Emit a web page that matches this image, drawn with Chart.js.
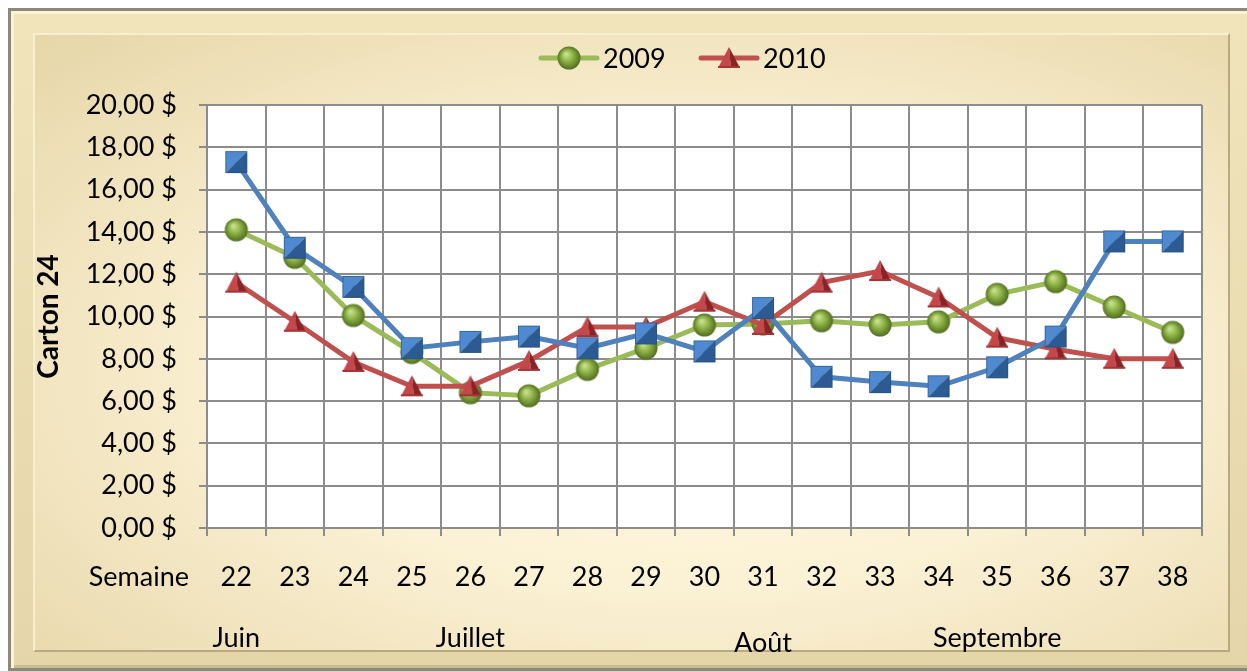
<!DOCTYPE html>
<html>
<head>
<meta charset="utf-8">
<script src="https://cdn.jsdelivr.net/npm/chart.js@4/dist/chart.umd.min.js"></script>
<style>
  html, body { margin: 0; padding: 0; background: #fff; width: 1247px; height: 671px; overflow: hidden; }
  .frame {
    position: absolute; left: 8px; top: 8px; width: 1262px; height: 657px;
    border: 3px solid #8d887a;
    background: linear-gradient(180deg, #f1e4bb 0%, #e5d6aa 100%);
    box-shadow: inset 3px 3px 0 #fbf3d6, inset -3px -3px 0 #c9bb92;
  }
  .panel {
    position: absolute; left: 22px; top: 22px; width: 1193px; height: 615px;
    border: 2px solid; border-color: #f8efd0 #b8aa80 #b8aa80 #f8efd0;
    background: radial-gradient(ellipse at 55% 55%, #fffae6 0%, #fbf1d4 45%, #e6d6a8 100%);
  }
  #wrap { position: absolute; left: 0; top: 0; width: 1247px; height: 671px; }
</style>
</head>
<body>
<div class="frame"><div class="panel"></div></div>
<div id="wrap"><canvas id="Chart" width="1247" height="671"></canvas></div>
<script>
// semaines et valeurs
var semaines = ['22','23','24','25','26','27','28','29','30','31','32','33','34','35','36','37','38'];
var prix2009 = [14.1, 12.8, 10.05, 8.3, 6.4, 6.25, 7.5, 8.5, 9.6, 9.65, 9.8, 9.6, 9.75, 11.05, 11.65, 10.45, 9.25];
var prix2010 = [11.6, 9.75, 7.85, 6.7, 6.7, 7.9, 9.5, 9.5, 10.7, 9.6, 11.6, 12.15, 10.9, 9.0, 8.45, 8.0, 8.0];
var prix2011 = [17.3, 13.25, 11.4, 8.5, 8.8, 9.05, 8.5, 9.2, 8.35, 10.4, 7.15, 6.9, 6.7, 7.6, 9.05, 13.55, 13.55];
var mois = ['Juin', 'Juillet', 'Août', 'Septembre'];
var moisSemaine = [22, 26, 31, 35];
var yTicks = { min: 0, max: 20, step: 2 };

var FONT = 'Lato, "Open Sans", sans-serif';

function marker(kind) {
    var c = document.createElement('canvas');
    c.width = 26; c.height = 26;
    var g = c.getContext('2d');
    if (kind == 'circle') {
        var rg = g.createRadialGradient(10, 9, 1, 13, 13, 12);
        rg.addColorStop(0, '#c6e08c');
        rg.addColorStop(0.45, '#8db146');
        rg.addColorStop(1, '#4d6a1c');
        g.fillStyle = rg;
        g.beginPath(); g.arc(13, 13, 11.5, 0, Math.PI * 2); g.fill();
    } else if (kind == 'square') {
        g.fillStyle = '#4f8ad0';
        g.beginPath(); g.moveTo(2, 2); g.lineTo(24, 2); g.lineTo(2, 24); g.closePath(); g.fill();
        g.fillStyle = '#2c5a92';
        g.beginPath(); g.moveTo(24, 2); g.lineTo(24, 24); g.lineTo(2, 24); g.closePath(); g.fill();
        g.strokeStyle = 'rgba(40,80,130,0.6)'; g.lineWidth = 1;
        g.strokeRect(2.5, 2.5, 21, 21);
    } else {
        g.fillStyle = '#c4474a';
        g.beginPath(); g.moveTo(13, 2); g.lineTo(2, 23); g.lineTo(15, 23); g.closePath(); g.fill();
        g.fillStyle = '#8a2326';
        g.beginPath(); g.moveTo(13, 2); g.lineTo(15, 23); g.lineTo(24, 23); g.closePath(); g.fill();
        g.fillStyle = '#a83336';
        g.fillRect(2, 21, 22, 2);
    }
    return c;
}

var mkGreen = marker('circle');
var mkRed = marker('triangle');
var mkBlue = marker('square');

var Data = {
    labels: semaines,
    datasets: [{
        label: '2009',
        data: prix2009,
        borderColor: '#9bbb59',
        backgroundColor: '#9bbb59',
        borderWidth: 5,
        pointStyle: mkGreen,
        order: 2,
        legend: true
    }, {
        label: '2010',
        data: prix2010,
        borderColor: '#c0504d',
        backgroundColor: '#c0504d',
        borderWidth: 5,
        pointStyle: mkRed,
        order: 1,
        legend: true
    }, {
        label: '2011',
        data: prix2011,
        borderColor: '#4f81bd',
        backgroundColor: '#4f81bd',
        borderWidth: 5,
        pointStyle: mkBlue,
        order: 0,
        legend: false
    }]
};

// fond blanc de la zone de tracé
var plotBg = {
    id: 'plotBg',
    beforeDraw: function(chart) {
        var a = chart.chartArea, ctx = chart.ctx;
        ctx.save();
        ctx.fillStyle = '#ffffff';
        ctx.fillRect(a.left, a.top, a.right - a.left, a.bottom - a.top);
        ctx.restore();
    }
};

// légende avec trait + marqueur, et libellés Semaine / mois
var extras = {
    id: 'extras',
    afterDraw: function(chart) {
        var ctx = chart.ctx, xs = chart.scales.x, a = chart.chartArea;
        ctx.save();
        ctx.font = '27px ' + FONT;
        ctx.fillStyle = '#000';
        ctx.textBaseline = 'middle';

        var x = 541, y = 58;
        chart.data.datasets.forEach(function(ds) {
            if (!ds.legend) return;
            ctx.strokeStyle = ds.borderColor;
            ctx.lineWidth = 5;
            ctx.lineCap = 'round';
            ctx.beginPath(); ctx.moveTo(x, y); ctx.lineTo(x + 56, y); ctx.stroke();
            ctx.drawImage(ds.pointStyle, x + 28 - 13, y - 13);
            ctx.textAlign = 'left';
            ctx.fillText(ds.label, x + 62, y + 1);
            x += 160;
        });

        ctx.textAlign = 'right';
        ctx.fillText('Semaine', a.left - 18, 577);

        ctx.textAlign = 'center';
        mois.forEach(function(m, i) {
            var px = xs.getPixelForValue(moisSemaine[i] - 22);
            ctx.fillText(m, px, m == 'Août' ? 643 : 638);
        });
        ctx.restore();
    }
};

var Options = {
    responsive: false,
    animation: false,
    layout: { padding: { left: 30, top: 105, right: 45, bottom: 0 } },
    plugins: { legend: { display: false }, tooltip: { enabled: false } },
    elements: { point: { radius: 12 }, line: { tension: 0 } },
    scales: {
        x: {
            offset: true,
            grid: { offset: true, color: '#8c8c8c', lineWidth: 2, tickLength: 8 },
            border: { color: '#8c8c8c', width: 2 },
            ticks: { color: '#000', font: { family: FONT, size: 27 }, padding: 25, maxRotation: 0, autoSkip: false },
            afterFit: function(s) { s.height = 143; }
        },
        y: {
            min: yTicks.min,
            max: yTicks.max,
            grid: { color: '#8c8c8c', lineWidth: 2, tickLength: 8 },
            border: { color: '#8c8c8c', width: 2 },
            ticks: {
                stepSize: yTicks.step,
                color: '#000',
                font: { family: FONT, size: 27 },
                padding: 22,
                callback: function(v) { return v.toFixed(2).replace('.', ',') + ' $'; }
            },
            title: { display: true, text: 'Carton 24', color: '#000', font: { family: FONT, size: 28, weight: 'bold' }, padding: { top: 2, bottom: 2 } },
            afterFit: function(s) { s.width = 177; }
        }
    }
};

var chart = new Chart(document.getElementById('Chart').getContext('2d'), {
    type: 'line',
    data: Data,
    options: Options,
    plugins: [plotBg, extras]
});
</script>
</body>
</html>
